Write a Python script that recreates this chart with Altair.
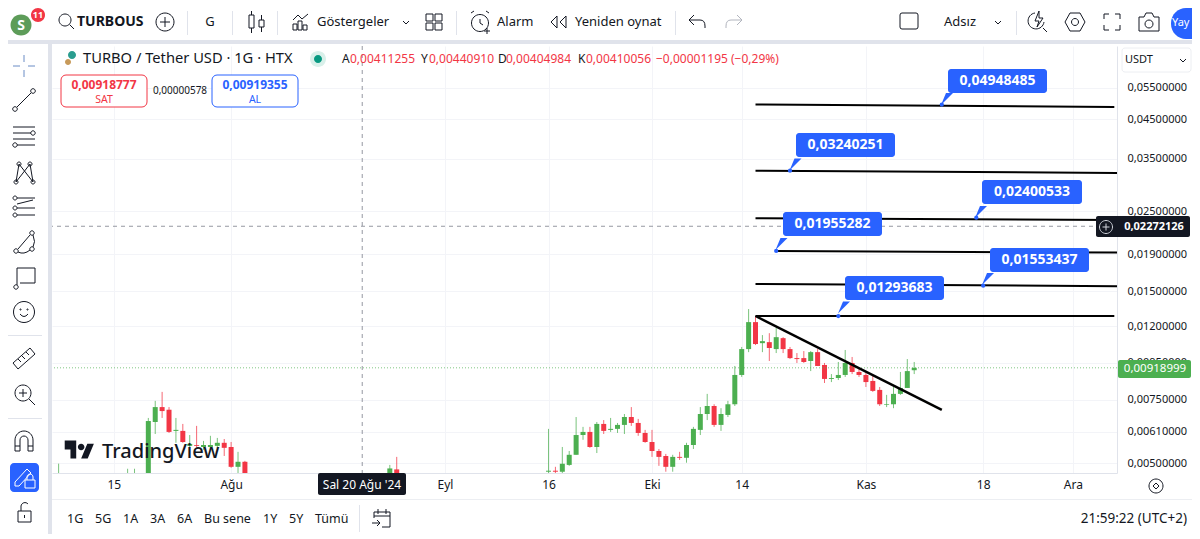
import altair as alt
import pandas as pd

FONT = "Noto Sans"
GREEN, RED, BLUE, INK, BAND = "#4caf50", "#f23645", "#2962ff", "#131722", "#e0e3eb"

# ---------- data values ----------
EARLY_DAYS = ["2024-07-07", "2024-07-17", "2024-07-18"]
EARLY_OPEN = [.00458, .00458, .00458]
EARLY_HIGH = [.00498, .00482, .00482]
EARLY_LOW = [.00450, .00450, .00450]
EARLY_CLOSE = [.00462, .00462, .00462]

JUL_START, JUL_COUNT = "2024-07-20", 15
JUL_OPEN = [.00420, .00650, .00715, .00703, .00614, .00614, .00558, .00561, .00554, .00554, .00558, .00569, .00554, .00488, .00504]
JUL_HIGH = [.00667, .00744, .00788, .00715, .00667, .00642, .00598, .00634, .00576, .00595, .00587, .00583, .00572, .00537, .00507]
JUL_LOW = [.00394, .00602, .00667, .00606, .00569, .00569, .00551, .00547, .00544, .00544, .00544, .00523, .00485, .00455, .00433]
JUL_CLOSE = [.00654, .00715, .00697, .00610, .00618, .00572, .00565, .00558, .00561, .00561, .00569, .00551, .00488, .00504, .00449]

AUG_DAYS = ["2024-08-24", "2024-08-25"]
AUG_OPEN = [.00455, .00480]
AUG_HIGH = [.00494, .00520]
AUG_LOW = [.00440, .00440]
AUG_CLOSE = [.00483, .00450]

FALL_START, FALL_COUNT = "2024-09-16", 54
FALL_OPEN = [.00473, .00476, .00473, .00494, .00527, .00598, .00610, .00554, .00642, .00618, .00622, .00638, .00671, .00646, .00606,
             .00572, .00540, .00523, .00488, .00520, .00517, .00561, .00618, .00684, .00720, .00638, .00680,
             .00728, .00878, .01036, .01231, .01076, .01083, .01036, .01111, .01036, .00978, .00978, .00960, .01016, .00936,
             .00856, .00861, .00878, .00948, .00895, .00878, .00845, .00798, .00725, .00728, .00778, .00808, .00905]
FALL_HIGH = [.00622, .00488, .00554, .00540, .00671, .00630, .00630, .00650, .00658, .00667, .00646, .00684, .00715, .00663, .00618,
             .00618, .00547, .00530, .00527, .00537, .00569, .00630, .00715, .00778, .00728, .00710, .00744,
             .00930, .01050, .01338, .01279, .01133, .01147, .01185, .01118, .01050, .01010, .01023, .01023, .01036, .00948,
             .00883, .00954, .01030, .00985, .00912, .00889, .00872, .00813, .00773, .00813, .00895, .00972, .00954]
FALL_LOW = [.00449, .00455, .00455, .00491, .00527, .00580, .00551, .00533, .00602, .00610, .00606, .00602, .00634, .00595, .00569,
            .00520, .00491, .00473, .00473, .00510, .00501, .00547, .00598, .00658, .00630, .00614, .00671,
            .00720, .00867, .01016, .01063, .01016, .00960, .01010, .01010, .00972, .00948, .00948, .00900, .00930, .00834,
            .00839, .00850, .00867, .00883, .00867, .00813, .00788, .00720, .00715, .00710, .00773, .00808, .00883]
FALL_CLOSE = [.00476, .00473, .00498, .00527, .00598, .00610, .00554, .00642, .00614, .00622, .00638, .00671, .00646, .00606, .00572,
              .00540, .00520, .00488, .00520, .00517, .00561, .00622, .00684, .00720, .00638, .00684, .00728,
              .00878, .01036, .01231, .01070, .01090, .01043, .01118, .01036, .00978, .00972, .00954, .01016, .00930, .00856,
              .00861, .00878, .00948, .00895, .00878, .00839, .00793, .00728, .00728, .00778, .00808, .00900, .00919]

LEVEL_START = ["2024-10-16", "2024-10-16", "2024-10-16", "2024-10-19", "2024-10-16", "2024-10-16"]
LEVEL_END = ["2024-12-07", "2024-12-09", "2024-12-09", "2024-12-09", "2024-12-09", "2024-12-07"]
LEVEL_P0 = [.04948, .03240, .02393, .01940, .01571, .01280]
LEVEL_P1 = [.04871, .03195, .02365, .01919, .01548, .01280]
TREND_DAYS, TREND_PRICES = ["2024-10-16", "2024-11-12"], [.01280, .00702]
ANCHOR_DAYS = ["2024-11-12", "2024-10-21", "2024-11-17", "2024-10-19", "2024-11-18", "2024-10-28"]
ANCHOR_PRICES = [.04948485, .03240251, .02400533, .01940, .01553437, .01280]
LAST_PRICE, CROSS_PRICE, CROSS_DAY = .00918999, .02272126, "2024-08-20"

PRICE_TICKS = [.055, .045, .035, .025, .019, .015, .012, .0095, .0075, .0061, .005]
TIME_TICKS = ["2024-07-15", "2024-08-01", "2024-09-01", "2024-09-16", "2024-10-01", "2024-10-14", "2024-11-01", "2024-11-18", "2024-12-01"]
X_DOMAIN_DAYS = ("2024-09-01", -56.96, 97.39)
Y_DOMAIN = [0.004691, 0.07194]


def ms(s, extra=0.0):
    return int((pd.Timestamp(s, tz="UTC") + pd.Timedelta(days=extra)).timestamp() * 1000)


days = (EARLY_DAYS
        + [d.strftime("%Y-%m-%d") for d in pd.date_range(JUL_START, periods=JUL_COUNT)]
        + AUG_DAYS
        + [d.strftime("%Y-%m-%d") for d in pd.date_range(FALL_START, periods=FALL_COUNT)])
candles = pd.DataFrame({
    "day": days,
    "o": EARLY_OPEN + JUL_OPEN + AUG_OPEN + FALL_OPEN,
    "h": EARLY_HIGH + JUL_HIGH + AUG_HIGH + FALL_HIGH,
    "l": EARLY_LOW + JUL_LOW + AUG_LOW + FALL_LOW,
    "c": EARLY_CLOSE + JUL_CLOSE + AUG_CLOSE + FALL_CLOSE,
})
candles["col"] = [GREEN if c >= o else RED for o, c in zip(candles.o, candles.c)]

xscale = alt.Scale(type="utc", nice=False, padding=0, domain=[ms(X_DOMAIN_DAYS[0], X_DOMAIN_DAYS[1]), ms(X_DOMAIN_DAYS[0], X_DOMAIN_DAYS[2])])
yscale = alt.Scale(type="log", domain=Y_DOMAIN, nice=False, zero=False)
XAX = alt.Axis(
    values=[ms(t) for t in TIME_TICKS], grid=True, gridColor="#f3f4f8", ticks=False, domainColor=BAND, title=None,
    labelFont=FONT, labelFontSize=12, labelColor=INK, labelPadding=6, labelFlush=False, labelOverlap=False,
    labelExpr="utcdate(datum.value)==1 ? ({6:'Tem',7:'Ağu',8:'Eyl',9:'Eki',10:'Kas',11:'Ara'})[utcmonth(datum.value)] : utcdate(datum.value)")
YAX = alt.Axis(
    orient="right", values=PRICE_TICKS, grid=True, gridColor="#f3f4f8", ticks=False, domainColor=BAND, title=None,
    labelFont=FONT, labelFontSize=11, labelColor=INK, labelPadding=10, labelOverlap=False,
    labelExpr="replace(format(datum.value,'.8f'),'.',',')")
xp = alt.X("day:T", scale=xscale, axis=XAX)
yp = alt.Y("p:Q", scale=yscale, axis=YAX)

wicks = alt.Chart(candles).mark_rule(strokeWidth=1, opacity=.75, clip=True).encode(
    x=xp, y=alt.Y("h:Q", scale=yscale, axis=YAX), y2="l:Q", stroke=alt.Stroke("col:N", scale=None))
bodies = alt.Chart(candles).mark_bar(size=5, clip=True, opacity=1).encode(
    x=xp, y=alt.Y("o:Q", scale=yscale, axis=YAX), y2="c:Q", color=alt.Color("col:N", scale=None))

last_line = alt.Chart(pd.DataFrame({"p": [LAST_PRICE]})).mark_rule(
    stroke=GREEN, strokeDash=[1, 2], strokeWidth=1, opacity=.7).encode(y=yp)
cross_h = alt.Chart(pd.DataFrame({"p": [CROSS_PRICE]})).mark_rule(
    stroke="#9598a1", strokeDash=[4, 4], strokeWidth=1).encode(y=yp)
cross_v = alt.Chart(pd.DataFrame({"day": [CROSS_DAY]})).mark_rule(
    stroke="#9598a1", strokeDash=[4, 4], strokeWidth=1).encode(x=xp)

levels = pd.DataFrame({"day": LEVEL_START, "d1": LEVEL_END, "p": LEVEL_P0, "p1": LEVEL_P1})
level_marks = alt.Chart(levels).mark_rule(stroke="#000000", strokeWidth=2, clip=True).encode(
    x=xp, x2="d1:T", y=yp, y2="p1:Q")
trend = pd.DataFrame({"day": TREND_DAYS, "p": TREND_PRICES})
trend_mark = alt.Chart(trend).mark_line(color="#000000", strokeWidth=2.5, clip=True).encode(x=xp, y=yp)
anchors = pd.DataFrame({"day": ANCHOR_DAYS, "p": ANCHOR_PRICES})
anchor_marks = alt.Chart(anchors).mark_circle(color=BLUE, size=18, opacity=1).encode(x=xp, y=yp)

data_layers = alt.layer(wicks, bodies, last_line, cross_h, cross_v, level_marks, trend_mark, anchor_marks)


# ---------- application chrome, placed in picture pixels ----------
OX, OY = 52, 46


def circ(cx, cy, r):
    return f"M{cx-r},{cy} A{r},{r} 0 1,1 {cx+r},{cy} A{r},{r} 0 1,1 {cx-r},{cy} Z "


def boxes(rows, radius=0, stroke=None):
    df = pd.DataFrame(rows, columns=["x0", "y0", "x1", "y1", "col"])
    df["x"], df["x2"] = df.x0 - OX, df.x1 - OX
    df["y"], df["y2"] = df.y0 - OY, df.y1 - OY
    kw = dict(cornerRadius=radius) if radius else {}
    if stroke:
        kw.update(stroke=stroke, strokeWidth=1)
    return alt.Chart(df).mark_rect(**kw).encode(
        x=alt.X("x:Q", scale=None, axis=None), x2="x2:Q",
        y=alt.Y("y:Q", scale=None, axis=None), y2="y2:Q",
        fill=alt.Fill("col:N", scale=None))


def texts(rows):
    df = pd.DataFrame(rows, columns=["x0", "y0", "text", "size", "col", "align", "weight"])
    df["x"], df["y"] = df.x0 - OX, df.y0 - OY
    out = []
    for (al, w), g in df.groupby(["align", "weight"]):
        out.append(alt.Chart(g).mark_text(align=al, baseline="middle", fontWeight=int(w) if w.isdigit() else w, font=FONT).encode(
            x=alt.X("x:Q", scale=None, axis=None), y=alt.Y("y:Q", scale=None, axis=None),
            text="text:N", size=alt.Size("size:Q", scale=None), color=alt.Color("col:N", scale=None)))
    return out


def icons(rows, filled=False, width=1.0, size=4):
    df = pd.DataFrame(rows, columns=["x0", "y0", "path", "col"])
    df["x"], df["y"] = df.x0 - OX, df.y0 - OY
    df["sz"] = size
    if filled:
        m = alt.Chart(df).mark_point(filled=True, opacity=1, strokeWidth=0).encode(color=alt.Color("col:N", scale=None))
    else:
        m = alt.Chart(df).mark_point(filled=False, opacity=1, strokeWidth=width).encode(stroke=alt.Stroke("col:N", scale=None))
    return m.encode(x=alt.X("x:Q", scale=None, axis=None), y=alt.Y("y:Q", scale=None, axis=None),
                    shape=alt.Shape("path:N", scale=None), size=alt.Size("sz:Q", scale=None))


bands = boxes([
    (0, 40, 1192, 44, BAND), (48, 44, 52, 539, BAND),
    (52, 499, 1192, 500, "#eceef2"),
    (187, 11, 188, 35, BAND), (232, 11, 233, 35, BAND), (277, 11, 278, 35, BAND), (456, 11, 457, 35, BAND),
    (675, 11, 676, 35, BAND), (1016, 11, 1017, 35, BAND), (359, 505, 360, 532, BAND),
    (7, 335, 42, 336, BAND), (7, 418, 42, 419, BAND),
])
green_tag = boxes([(1118, 360, 1191, 378, GREEN)], radius=2)
dark_tags = boxes([(1096, 216, 1190, 237, INK), (318, 473, 406, 495, INK)], radius=2)
blue_pill = boxes([(1171, 8, 1215, 39, BLUE)], radius=15)
pen_box = boxes([(10, 463, 39, 492, BLUE)], radius=4)
usdt_box = boxes([(1122, 48, 1191, 72, "#ffffff")], radius=3, stroke="#eceef2")
sat_box = boxes([(61, 75, 147, 107, "#ffffff")], radius=5, stroke=RED)
al_box = boxes([(212, 75, 298, 107, "#ffffff")], radius=5, stroke=BLUE)
tag_boxes = boxes([(948, 69, 1047, 93, BLUE), (796, 133, 895, 157, BLUE), (982, 180, 1082, 204, BLUE),
                   (783, 212, 882, 236, BLUE), (990, 248, 1089, 272, BLUE), (845, 276, 944, 300, BLUE)], radius=3)

POINTER = "M-6,6 L-1,-6 L6,-6 Z"
pointers = icons([(947, 99, POINTER, BLUE), (795.5, 164.5, POINTER, BLUE), (981, 212, POINTER, BLUE),
                  (781.5, 244, POINTER, BLUE), (988, 279, POINTER, BLUE), (844, 307.5, POINTER, BLUE)], filled=True)

GREY_I = "#b2b5be"
line_icons = icons([
    # left toolbar
    (24, 66, "M-11,0 H-4 M4,0 H11 M0,-11 V-4 M0,4 V11", "#6b8cc5"),
    (24, 100, circ(-9, 9, 2.3) + "M-7,7 L7,-7 " + circ(9, -9, 2.3), INK),
    (24, 136, "M-11,-9 H11 M-11,-3 H7 " + circ(9, -3, 2.2) + "M-11,3 H11 M-7,9 H11 " + circ(-9, 9, 2.2), INK),
    (24, 172, "M-8,10 L-5,-8 L9,10 L6,-8 L-8,10 " + circ(-8, 10, 2) + circ(-5, -8, 2) + circ(9, 10, 2) + circ(6, -8, 2), INK),
    (24, 207, circ(-9, -9, 2) + "M-7,-9 H11 M-7,-3 L9,-7 " + circ(-9, 1, 2) + "M-7,1 H11 " + circ(-9, 8, 2) + "M-7,8 H11", INK),
    (24, 243, circ(-8, 8, 2.2) + circ(8, -10, 2.2) + circ(8, 6, 2.2) + "M-6,6 L6,-8 M-6,9 Q0,12 6,7 M9,-8 Q12,-1 9,4", INK),
    (24, 278, "M-7,7 V-10 H11 V5 H-4 " + circ(-8, 9, 2.2), INK),
    (24, 312, circ(0, 0, 10.5) + "M-4,2 Q0,7 4,2 " + circ(-3.5, -2.5, .6) + circ(3.5, -2.5, .6), INK),
    (24, 359, "M-11,4 L6,-11 L11,-5 L-6,10 Z M-6,0 L-3,3 M-2,-3 L1,0 M2,-7 L5,-4", INK),
    (24, 394, circ(-1, -1, 8) + "M5,5 L11,11 M-5,-1 H3 M-1,-5 V3", INK),
    (24, 441, "M-9,10 V-1 A9,9 0 0,1 9,-1 V10 H4 V-1 A4,4 0 0,0 -4,-1 V10 Z M-9,5 H-4 M4,5 H9", INK),
    (24, 512, "M-6,-1 H7 V10 H-6 Z M-3,-1 V-6 A4,4 0 0,1 4,-8 M0.5,3 V6", INK),
    (24, 477, "M-9,9 L-9,5 L3,-8 L7,-4 L-5,9 Z M1,3 H11 V11 H1 Z M3,3 V0 A3,3 0 0,1 9,0 V3", "#ffffff"),
    # top toolbar
    (66, 21, circ(-1, -1, 6) + "M3.5,3.5 L8,8", INK),
    (165, 22, circ(0, 0, 9) + "M-5,0 H5 M0,-5 V5", INK),
    (256, 22, "M-7,-7 H-2 V6 H-7 Z M-4.5,-11 V-7 M-4.5,6 V11 M3,-2 H8 V5 H3 Z M5.5,-7 V-2 M5.5,5 V10", INK),
    (301, 22, "M-8,-2 L-3,-7 L1,-3 L7,-8 M-8,8 V2 H-4 V8 Z M-3,8 V-1 H1 V8 Z M2,8 V3 H6 V8 Z", INK),
    (406, 22, "M-3,-1 L0,2 L3,-1", INK),
    (434, 22, "M-8,-8 H-1 V-1 H-8 Z M1,-8 H8 V-1 H1 Z M-8,1 H-1 V8 H-8 Z M1,1 H8 V8 H1 Z", INK),
    (480, 22, circ(0, 1, 8.5) + "M0,-3 V1 L3,3 M-9,-9 L-6,-11 M9,-9 L6,-11 M7,6 V12 M4,9 H10", INK),
    (559, 22, "M-2,-6 L-8,0 L-2,6 Z M7,-6 L1,0 L7,6 Z", INK),
    (697, 22, "M-8,-2 L-3,-7 M-8,-2 L-3,3 M-8,-2 H3 Q8,-2 8,4 V6", INK),
    (734, 22, "M8,-2 L3,-7 M8,-2 L3,3 M8,-2 H-3 Q-8,-2 -8,4 V6", GREY_I),
    (909, 21, "M-7,-8 H7 Q9,-8 9,-6 V6 Q9,8 7,8 H-7 Q-9,8 -9,6 V-6 Q-9,-8 -7,-8 Z", INK),
    (998, 22, "M-3,-1 L0,2 L3,-1", INK),
    (1038, 22, "M-3,-9 A8,8 0 1,0 6,0 M1,-11 L-3,-1 H1 L-1,5 L5,-4 H1 Z M5,6 L9,10", INK),
    (1075, 22, "M-10,0 L-5,-9 H5 L10,0 L5,9 H-5 Z " + circ(0, 0, 3.5), INK),
    (1112, 22, "M-8,-3 V-8 H-3 M3,-8 H8 V-3 M8,3 V8 H3 M-3,8 H-8 V3", INK),
    (1149, 22, "M-10,-5 H-5 L-3,-9 H3 L5,-5 H10 V9 H-10 Z " + circ(0, 2, 4), INK),
    (1183, 60, "M-3,-1 L0,2 L3,-1", INK),
    (382, 518, "M-8,-6 H8 V9 H0 M-8,-6 V0 M-8,-2 H8 M-4,-9 V-4 M4,-9 V-4 M-10,5 H-2 M-5,2 L-2,5 L-5,8", INK),
    (1156, 486, circ(0, 0, 7) + "M-3,0 L0,-3 L3,0 L0,3 Z", INK),
    (1106, 227, circ(0, 0, 6.5) + "M-3.5,0 H3.5 M0,-3.5 V3.5", "#d1d4dc"),
])
dots = icons([
    (21, 25, circ(0, 0, 10.5), "#5d9c59"),
    (38, 15, circ(0, 0, 7), "#f23645"),
    (318, 59, circ(0, 0, 8), "#d9f0ea"),
    (72, 55, circ(0, 0, 4), "#2a9d8f"),
    (68, 62, circ(0, 0, 3), "#c79a5a"),
], filled=True)
dots2 = icons([(318, 59, circ(0, 0, 4), "#089981")], filled=True)
logo = icons([(79.5, 452, "M-18,-14 H-4 V8 H-11 V-3 H-18 Z M10,8 H2 L9.5,-10 H17.5 Z " + circ(2, -6, 4), INK)], filled=True, size=2.7)

RIGHT, MID = "right", "center"
LEFT = "left"
N, B = "normal", "bold"
text_rows = [
    (21, 26, "S", 14, "#ffffff", MID, B), (38, 15, "11", 9, "#ffffff", MID, B),
    (77, 22, "TURBOUS", 14, INK, LEFT, B), (210, 22, "G", 13, INK, MID, N),
    (317, 22, "Göstergeler", 13, INK, LEFT, N), (497, 22, "Alarm", 13, INK, LEFT, N),
    (575, 22, "Yeniden oynat", 13, INK, LEFT, N), (944, 22, "Adsız", 13, INK, LEFT, N),
    (1172, 23, "Yay", 11, "#ffffff", LEFT, N),
    (83, 59, "TURBO / Tether USD · 1G · HTX", 14.7, INK, LEFT, N),
    (342, 59, "A", 12, INK, LEFT, N), (350, 59, "0,00411255", 12, RED, LEFT, N),
    (421, 59, "Y", 12, INK, LEFT, N), (429, 59, "0,00440910", 12, RED, LEFT, N),
    (498, 59, "D", 12, INK, LEFT, N), (506, 59, "0,00404984", 12, RED, LEFT, N),
    (578, 59, "K", 12, INK, LEFT, N), (586, 59, "0,00410056", 12, RED, LEFT, N),
    (656, 59, "−0,00001195 (−0,29%)", 12, RED, LEFT, N),
    (104, 84.5, "0,00918777", 12, RED, MID, B), (104, 99.5, "SAT", 10.5, RED, MID, N),
    (180, 91, "0,00000578", 10, INK, MID, N),
    (255, 84.5, "0,00919355", 12, BLUE, MID, B), (255, 99.5, "AL", 10.5, BLUE, MID, N),
    (1125, 60, "USDT", 11, INK, LEFT, N),
    (997.5, 81, "0,04948485", 14, "#ffffff", MID, B), (845.5, 145, "0,03240251", 14, "#ffffff", MID, B),
    (1032, 192, "0,02400533", 14, "#ffffff", MID, B), (832.5, 224, "0,01955282", 14, "#ffffff", MID, B),
    (1039.5, 260, "0,01553437", 14, "#ffffff", MID, B), (894.5, 288, "0,01293683", 14, "#ffffff", MID, B),
    (1154, 226.5, "0,02272126", 11, "#ffffff", MID, B), (1155, 369, "0,00918999", 11.5, "#ffffff", MID, N),
    (362, 485, "Sal 20 Ağu '24", 12, "#ffffff", MID, N),
    (67, 519, "1G", 12.5, INK, LEFT, N), (95, 519, "5G", 12.5, INK, LEFT, N), (123, 519, "1A", 12.5, INK, LEFT, N),
    (150, 519, "3A", 12.5, INK, LEFT, N), (177, 519, "6A", 12.5, INK, LEFT, N), (204, 519, "Bu sene", 12.5, INK, LEFT, N),
    (263, 519, "1Y", 12.5, INK, LEFT, N), (289, 519, "5Y", 12.5, INK, LEFT, N), (315, 519, "Tümü", 12.5, INK, LEFT, N),
    (1187, 519, "21:59:22 (UTC+2)", 13.5, INK, RIGHT, N),
    (102, 452, "TradingView", 20, INK, LEFT, "500"),
]

chrome_layers = alt.layer(
    bands, green_tag, dark_tags, blue_pill, pen_box, usdt_box, sat_box, al_box, tag_boxes, pointers,
    dots, dots2, line_icons, logo, *texts(text_rows))

chart = alt.layer(data_layers, chrome_layers).resolve_scale(
    x="independent", y="independent"
).properties(
    width=1065, height=427,
    padding={"left": 44, "top": 38, "right": 75, "bottom": 61},
    autosize=alt.AutoSizeParams(type="none"),
    background="#ffffff",
).configure_view(stroke=None)

chart.save("out.html", embed_options={"renderer": "svg", "actions": False})
